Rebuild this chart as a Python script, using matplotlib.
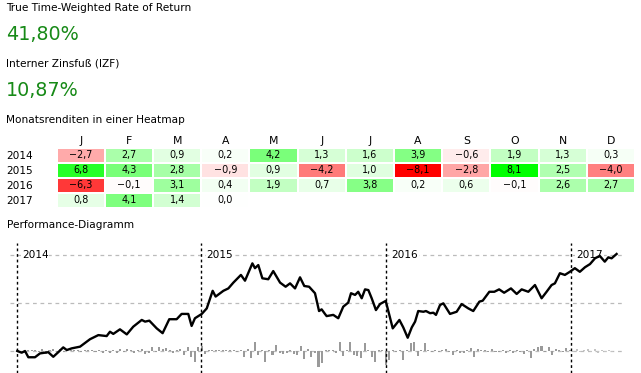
import numpy as np
import matplotlib
matplotlib.use("Agg")
import matplotlib.pyplot as plt
from matplotlib.colors import LinearSegmentedColormap

# ---------------- data ----------------
twr_label = "True Time-Weighted Rate of Return"
twr_value = "41,80%"
izf_label = "Interner Zinsfuß (IZF)"
izf_value = "10,87%"
heatmap_title = "Monatsrenditen in einer Heatmap"
perf_title = "Performance-Diagramm"

months = ["J", "F", "M", "A", "M", "J", "J", "A", "S", "O", "N", "D"]
years = ["2014", "2015", "2016", "2017"]
ret_2014 = [-2.7, 2.7, 0.9, 0.2, 4.2, 1.3, 1.6, 3.9, -0.6, 1.9, 1.3, 0.3]
ret_2015 = [6.8, 4.3, 2.8, -0.9, 0.9, -4.2, 1.0, -8.1, -2.8, 8.1, 2.5, -4.0]
ret_2016 = [-6.3, -0.1, 3.1, 0.4, 1.9, 0.7, 3.8, 0.2, 0.6, -0.1, 2.6, 2.7]
ret_2017 = [0.8, 4.1, 1.4, 0.0, None, None, None, None, None, None, None, None]

year_marks = [2014, 2015, 2016, 2017]

# cumulative performance (fractional year, %)
perf_dates = [
    2014.003, 2014.027, 2014.045, 2014.063, 2014.099, 2014.126, 2014.171, 2014.198,
    2014.225, 2014.252, 2014.271, 2014.298, 2014.343, 2014.397, 2014.442, 2014.487,
    2014.505, 2014.523, 2014.559, 2014.596, 2014.631, 2014.677, 2014.695, 2014.718,
    2014.758, 2014.790, 2014.826, 2014.866, 2014.893, 2014.929, 2014.947, 2014.965,
    2015.002, 2015.029, 2015.061, 2015.077, 2015.119, 2015.146, 2015.173, 2015.214,
    2015.236, 2015.276, 2015.290, 2015.308, 2015.330, 2015.362, 2015.389, 2015.426,
    2015.456, 2015.480, 2015.507, 2015.534, 2015.557, 2015.583, 2015.615, 2015.637,
    2015.651, 2015.669, 2015.678, 2015.714, 2015.741, 2015.768, 2015.795, 2015.810,
    2015.832, 2015.849, 2015.868, 2015.886, 2015.904, 2015.922, 2015.945, 2015.967,
    2015.998, 2016.036, 2016.072, 2016.093, 2016.117, 2016.139, 2016.157, 2016.174,
    2016.202, 2016.216, 2016.238, 2016.256, 2016.270, 2016.292, 2016.310, 2016.346,
    2016.382, 2016.409, 2016.445, 2016.472, 2016.505, 2016.523, 2016.559, 2016.586,
    2016.612, 2016.639, 2016.676, 2016.707, 2016.734, 2016.770, 2016.806, 2016.842,
    2016.869, 2016.896, 2016.914, 2016.941, 2016.968, 2016.995, 2017.022, 2017.049,
    2017.077, 2017.104, 2017.131, 2017.157, 2017.184, 2017.203, 2017.221, 2017.248,
]
perf_values = [
    0.0, -0.7, 0.0, -2.6, -2.6, -1.0, -0.5, -2.4,
    -0.5, 1.5, 0.4, 1.1, 1.8, 4.9, 6.6, 6.2,
    8.0, 7.1, 9.0, 6.9, 10.1, 12.9, 12.2, 12.6,
    9.4, 7.4, 13.2, 13.2, 15.4, 15.4, 10.4, 13.6,
    15.4, 17.7, 25.0, 22.6, 25.0, 26.0, 28.4, 31.6,
    29.2, 36.4, 34.4, 35.7, 30.2, 29.8, 33.2, 28.4,
    26.7, 28.1, 26.0, 30.6, 27.0, 26.7, 24.0, 16.6,
    17.3, 15.4, 14.5, 15.0, 13.6, 18.4, 20.1, 24.0,
    23.3, 24.6, 21.9, 25.6, 25.3, 21.9, 17.0, 19.5,
    20.8, 9.4, 12.9, 9.8, 5.5, 9.8, 12.2, 16.6,
    16.3, 16.6, 15.7, 15.9, 15.0, 19.1, 19.8, 15.4,
    16.3, 19.5, 17.7, 16.6, 20.5, 20.9, 24.6, 24.6,
    25.6, 24.2, 26.0, 23.7, 25.6, 24.6, 27.4, 21.9,
    24.6, 27.4, 28.1, 32.3, 31.6, 32.9, 34.4, 32.9,
    34.8, 36.1, 38.5, 39.5, 37.1, 38.9, 38.5, 40.3,
]

# weekly returns (%), first week of 2014 onwards
week_start = 2014.005
weekly_returns = [
    # 2014
    0.4, -0.8, -1.0, 0.5, 0.3, 0.6, -0.4, 0.8, -1.2, 0.6, 0.9, -0.5, 1.0,
    -0.4, 0.5, 0.6, 0.3, 0.4, -0.3, 0.5, 0.4, 0.3, -0.6, 0.4, -0.8, 0.5,
    -0.9, 0.6, -0.7, 0.8, -0.5, 0.9, 0.4, -1.0, 0.6, 0.8, -1.2, -0.9, 1.5,
    -0.6, 1.8, 0.7, 1.2, 0.5, -1.0, 0.6, 0.8, -1.5, 1.6, -2.5, -4.5, 1.8,
    # 2015
    2.0, -1.2, 0.5, 0.4, 0.6, 0.3, 0.5, 0.4, 0.6, 0.5, -0.4, 0.5, -2.4,
    1.0, -2.9, 3.7, -1.5, 0.6, -4.5, 0.5, -1.5, 2.5, -1.0, -1.4, -0.8, 0.5,
    -1.2, -1.5, 2.0, -3.4, 0.8, -2.3, -0.8, -6.6, -5.0, 0.6, 0.4, 0.5, -0.8,
    3.7, -1.9, 0.5, 3.7, -1.7, -2.1, -3.0, 3.3, 0.6, -2.5, -4.6, 0.5, 0.4,
    # 2016
    -5.8, -3.7, 0.5, -0.6, 0.4, -3.7, 0.6, 3.3, 3.7, -2.0, 0.4, 3.3, 0.5,
    -0.4, 0.6, -0.5, 0.4, 0.8, -0.5, -1.5, 0.6, -0.9, -1.0, 0.5, 1.2, -2.3,
    0.8, 0.4, 0.5, -0.6, 0.8, -0.5, -0.3, 0.5, -1.0, 0.4, -0.8, 0.6, -0.3,
    -1.2, 0.5, -2.8, 0.8, 1.5, 2.0, -0.4, 1.8, -1.6, 0.9, 0.6, -0.5, 1.2,
    # 2017
    0.6, -0.5, 0.9, -0.4, 0.5, 0.7, -0.3, 1.0, -0.8, 0.3, -0.5, 0.4, -0.3,
]

# ---------------- style ----------------
W, H = 641, 373
GREEN = "#178a17"
FS = 7.6

plt.rcParams["font.family"] = ["DejaVu Sans"]
fig = plt.figure(figsize=(W / 100, H / 100), dpi=100)


def fx(x):
    return x / W


def fy(y):
    return 1 - y / H


def fmt(v):
    return f"{v:.1f}".replace(".", ",").replace("-", "\u2212")


fig.text(fx(6.5), fy(11), twr_label, fontsize=FS, va="baseline")
fig.text(fx(6), fy(40), twr_value, fontsize=13.8, color=GREEN, va="baseline")
fig.text(fx(6.5), fy(67), izf_label, fontsize=FS, va="baseline")
fig.text(fx(6), fy(95.5), izf_value, fontsize=13.8, color=GREEN, va="baseline")
fig.text(fx(6.5), fy(123), heatmap_title, fontsize=FS, va="baseline")
fig.text(fx(6.5), fy(227.5), perf_title, fontsize=FS, va="baseline")

# ---------------- heatmap ----------------
hm_left, hm_right, hm_top, hm_bottom = 56.7, 635, 147.5, 207.5
ax_h = fig.add_axes([fx(hm_left), fy(hm_bottom), (hm_right - hm_left) / W,
                     (hm_bottom - hm_top) / H])
data = np.array([ret_2014, ret_2015, ret_2016, ret_2017], dtype=float)
masked = np.ma.masked_invalid(data)
cmap = LinearSegmentedColormap.from_list("rwg", [(1, 0, 0), (1, 1, 1), (0, 1, 0)])
vmax = np.nanmax(np.abs(data))
ax_h.pcolormesh(masked, cmap=cmap, vmin=-vmax, vmax=vmax,
                edgecolors="white", linewidth=1.3)
ax_h.set_xlim(0, 12)
ax_h.set_ylim(len(years), 0)
for i in range(data.shape[0]):
    for j in range(data.shape[1]):
        if not np.isnan(data[i, j]):
            ax_h.text(j + 0.5, i + 0.5, fmt(data[i, j]), ha="center",
                      va="center", fontsize=6.9)
ax_h.set_xticks(np.arange(12) + 0.5)
ax_h.set_xticklabels(months, fontsize=7.8)
ax_h.xaxis.tick_top()
ax_h.set_yticks(np.arange(len(years)) + 0.5)
ax_h.set_yticklabels(years, fontsize=FS)
ax_h.tick_params(axis="x", length=0, pad=1)
ax_h.tick_params(axis="y", length=0, pad=36)
for lab in ax_h.get_yticklabels():
    lab.set_horizontalalignment("left")
for s in ax_h.spines.values():
    s.set_visible(False)

# ---------------- performance chart ----------------
p_left, p_right, p_top, p_bottom = 10, 625, 243, 373
ax = fig.add_axes([fx(p_left), fy(p_bottom), (p_right - p_left) / W,
                   (p_bottom - p_top) / H])
ax.set_xlim(2013.9637, 2017.2935)
ax.set_ylim(-9.14, 44.86)
ax.axis("off")

for v in [0, 20, 40]:
    ax.axhline(v, color="#bbbbbb", lw=0.9, dashes=(3, 3), zorder=0)

wk = np.array(weekly_returns)
wx = week_start + np.arange(len(wk)) * 7 / 365.25
bar_colors = ["#c4c4c4" if x >= 2017 else "#9a9a9a" for x in wx]
ax.bar(wx, wk, width=0.011, color=bar_colors, linewidth=0, zorder=1)

for yr in year_marks:
    ax.axvline(yr, color="black", lw=1.0, dashes=(2, 2), zorder=2)
    ax.annotate(str(yr), xy=(yr, 40), xytext=(3.8, 0), textcoords="offset points",
                ha="left", va="center", fontsize=7.6, zorder=2.5,
                bbox=dict(facecolor="white", edgecolor="none", pad=0.6))

ax.plot(perf_dates, perf_values, color="black", lw=1.7, zorder=3,
        solid_joinstyle="round")

fig.savefig("out.png", dpi=100)
